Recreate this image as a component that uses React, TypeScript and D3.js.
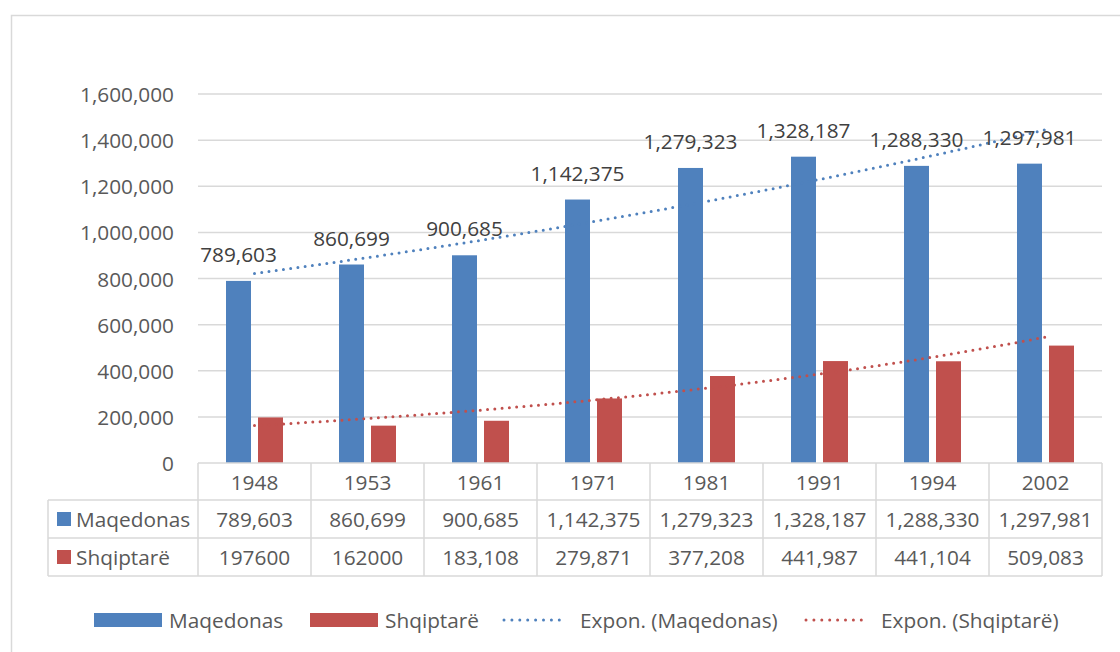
import React from 'react';
import * as d3 from 'd3';

const years = ['1948', '1953', '1961', '1971', '1981', '1991', '1994', '2002'];
const maqedonas = [789603, 860699, 900685, 1142375, 1279323, 1328187, 1288330, 1297981];
const shqiptare = [197600, 162000, 183108, 279871, 377208, 441987, 441104, 509083];
const maqLabels = ['789,603', '860,699', '900,685', '1,142,375', '1,279,323', '1,328,187', '1,288,330', '1,297,981'];
const shqLabels = ['197600', '162000', '183,108', '279,871', '377,208', '441,987', '441,104', '509,083'];
const yTicks = [0, 200000, 400000, 600000, 800000, 1000000, 1200000, 1400000, 1600000];
const seriesNames = ['Maqedonas', 'Shqiptarë'];
const trendNames = ['Expon. (Maqedonas)', 'Expon. (Shqiptarë)'];

const W = 1120;
const H = 652;
const BLUE = '#4F81BD';
const RED = '#C0504D';
const GRID = '#d9d9d9';
const TXT = '#595959';
const LBL = '#404040';
const FONT = "'Open Sans', sans-serif";
const FS = 20.8;

function expFit(vals: number[]) {
  const xs = vals.map((_, i) => i + 1);
  const ls = vals.map((v) => Math.log(v));
  const mx = d3.mean(xs) as number;
  const ml = d3.mean(ls) as number;
  const sxy = d3.sum(xs.map((x, i) => (x - mx) * (ls[i] - ml)));
  const sxx = d3.sum(xs.map((x) => (x - mx) * (x - mx)));
  const b = sxy / sxx;
  const a = ml - b * mx;
  return (x: number) => Math.exp(a + b * x);
}

export default function App() {
  const x = d3.scaleBand<string>().domain(years).range([198, 1102]).padding(0);
  const y = d3.scaleLinear().domain([0, 1600000]).range([463, 94]);
  const bw = x.bandwidth();
  const barW = 25;
  const gap = 7;
  const tableLeft = 48;
  const rowY = [463, 500, 538, 576];

  const idxToX = d3.scaleLinear().domain([1, years.length]).range([
    (x(years[0]) as number) + bw / 2,
    (x(years[years.length - 1]) as number) + bw / 2,
  ]);
  const trendPath = (vals: number[]) => {
    const f = expFit(vals);
    const pts = d3.range(1, years.length + 0.001, 0.05).map((t) => [idxToX(t), y(f(t))] as [number, number]);
    return d3.line()(pts) as string;
  };

  const dotted = { strokeWidth: 3, strokeDasharray: '0 7.3', strokeLinecap: 'round' as const, fill: 'none' };

  return (
    <svg width={W} height={H} style={{ position: 'absolute', left: 0, top: 0, background: '#fff' }} fontFamily={FONT}>
      <rect x={0} y={0} width={W} height={H} fill="#fff" />
      <rect x={11.5} y={15.5} width={W + 20} height={H + 20} fill="none" stroke={GRID} strokeWidth={1.5} />

      {/* gridlines */}
      {yTicks.filter((t) => t > 0).map((t) => (
        <line key={t} x1={198} x2={1102} y1={y(t)} y2={y(t)} stroke={GRID} strokeWidth={1.5} />
      ))}
      {/* y tick labels */}
      {yTicks.map((t) => (
        <text key={t} x={174} y={y(t)} textAnchor="end" dominantBaseline="central" fontSize={FS} fill={TXT}>
          {d3.format(',')(t)}
        </text>
      ))}

      {/* bars */}
      {years.map((yr, i) => {
        const c = (x(yr) as number) + bw / 2;
        return (
          <g key={yr}>
            <rect x={c - gap / 2 - barW} y={y(maqedonas[i])} width={barW} height={y(0) - y(maqedonas[i])} fill={BLUE} />
            <rect x={c + gap / 2} y={y(shqiptare[i])} width={barW} height={y(0) - y(shqiptare[i])} fill={RED} />
          </g>
        );
      })}

      {/* trendlines */}
      <path d={trendPath(maqedonas)} stroke={BLUE} {...dotted} />
      <path d={trendPath(shqiptare)} stroke={RED} {...dotted} />

      {/* data labels */}
      {years.map((yr, i) => {
        const c = (x(yr) as number) + bw / 2 - gap / 2 - barW / 2;
        return (
          <text key={yr} x={c} y={y(maqedonas[i]) - 19} textAnchor="middle" fontSize={FS} fill={LBL}>
            {maqLabels[i]}
          </text>
        );
      })}

      {/* data table */}
      <g stroke={GRID} strokeWidth={1.5}>
        <line x1={198} x2={1102} y1={rowY[0]} y2={rowY[0]} />
        {rowY.slice(1).map((ry) => (
          <line key={ry} x1={tableLeft} x2={1102} y1={ry} y2={ry} />
        ))}
        <line x1={tableLeft} x2={tableLeft} y1={rowY[1]} y2={rowY[3]} />
        {years.map((yr) => (
          <line key={yr} x1={x(yr) as number} x2={x(yr) as number} y1={rowY[0]} y2={rowY[3]} />
        ))}
        <line x1={1102} x2={1102} y1={rowY[0]} y2={rowY[3]} />
      </g>
      {years.map((yr, i) => {
        const c = (x(yr) as number) + bw / 2;
        return (
          <g key={yr} fontSize={FS} fill={TXT} textAnchor="middle">
            <text x={c} y={(rowY[0] + rowY[1]) / 2} dominantBaseline="central">{yr}</text>
            <text x={c} y={(rowY[1] + rowY[2]) / 2} dominantBaseline="central">{maqLabels[i]}</text>
            <text x={c} y={(rowY[2] + rowY[3]) / 2} dominantBaseline="central">{shqLabels[i]}</text>
          </g>
        );
      })}
      {seriesNames.map((s, i) => {
        const cy = (rowY[i + 1] + rowY[i + 2]) / 2;
        return (
          <g key={s}>
            <rect x={57} y={cy - 7} width={14} height={14} fill={i === 0 ? BLUE : RED} />
            <text x={76} y={cy} dominantBaseline="central" fontSize={FS} fill={TXT}>{s}</text>
          </g>
        );
      })}

      {/* legend */}
      <g fontSize={FS} fill={TXT}>
        <rect x={94} y={613} width={68} height={14} fill={BLUE} />
        <text x={169} y={620} dominantBaseline="central">{seriesNames[0]}</text>
        <rect x={310} y={613} width={68} height={14} fill={RED} />
        <text x={385} y={620} dominantBaseline="central">{seriesNames[1]}</text>
        <line x1={504} x2={567} y1={620} y2={620} stroke={BLUE} strokeWidth={3} strokeDasharray="0 7.9" strokeLinecap="round" />
        <text x={580} y={620} dominantBaseline="central">{trendNames[0]}</text>
        <line x1={806} x2={869} y1={620} y2={620} stroke={RED} strokeWidth={3} strokeDasharray="0 7.9" strokeLinecap="round" />
        <text x={881} y={620} dominantBaseline="central">{trendNames[1]}</text>
      </g>
    </svg>
  );
}
